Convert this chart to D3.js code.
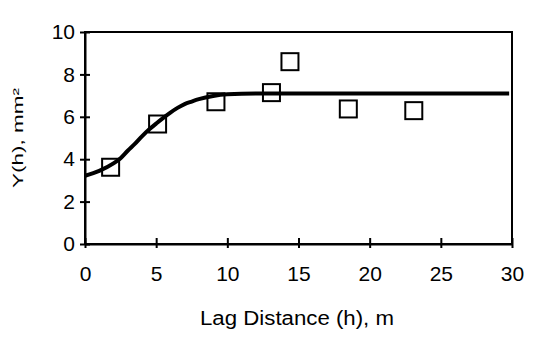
<!DOCTYPE html>
<html>
<head>
<meta charset="utf-8">
<script src="https://cdn.jsdelivr.net/npm/d3@7"></script>
<style>
  body { margin: 0; background: #fff; }
  text { font-family: "Liberation Sans", Arial, sans-serif; fill: #000; }
</style>
</head>
<body>
<div id="chart"></div>
<script>
// observed semivariogram points
const lagObs = [1.8, 5.1, 9.2, 13.1, 14.4, 18.5, 23.1];
const gammaObs = [3.62, 5.66, 6.71, 7.14, 8.6, 6.37, 6.29];

// fitted model curve
const lagFit = [0, 1, 2, 2.5, 3, 3.5, 4, 4.5, 5, 5.5, 6, 6.5, 7, 7.5, 8, 9, 10, 12, 29.8];
const gammaFit = [3.22, 3.45, 3.8, 4.05, 4.4, 4.72, 5.08, 5.4, 5.68, 5.95, 6.2, 6.42, 6.6, 6.72, 6.83, 6.98, 7.06, 7.1, 7.1];

const xTicks = [0, 5, 10, 15, 20, 25, 30];
const yTicks = [0, 2, 4, 6, 8, 10];

const W = 533, H = 338;
const margin = {top: 32, right: 21, bottom: 94, left: 85};
const width = W - margin.left - margin.right;
const height = H - margin.top - margin.bottom;

const svg = d3.select("#chart").append("svg")
    .attr("width", W)
    .attr("height", H);

const g = svg.append("g")
    .attr("transform", `translate(${margin.left},${margin.top})`);

const x = d3.scaleLinear().domain([0, 30]).range([0, width]);
const y = d3.scaleLinear().domain([0, 10]).range([height, 0]);

// frame
g.append("rect")
    .attr("width", width)
    .attr("height", height)
    .attr("fill", "none")
    .attr("stroke", "#000")
    .attr("stroke-width", 2);

// axes
const xAxis = g.append("g")
    .attr("transform", `translate(0,${height})`)
    .call(d3.axisBottom(x).tickValues(xTicks).tickSizeInner(4).tickSizeOuter(0).tickFormat(d3.format("d")));
xAxis.select(".domain").attr("stroke-width", 2);
xAxis.selectAll(".tick line").attr("y1", -6).attr("stroke-width", 2);
xAxis.selectAll(".tick text")
    .attr("y", 22)
    .style("font-size", "21px");

const yAxis = g.append("g")
    .call(d3.axisLeft(y).tickValues(yTicks).tickSizeInner(5).tickSizeOuter(0).tickFormat(d3.format("d")));
yAxis.select(".domain").attr("stroke-width", 2);
yAxis.selectAll(".tick line").attr("x1", 5).attr("stroke-width", 2);
yAxis.selectAll(".tick text")
    .attr("x", -10)
    .style("font-size", "21px");

// model curve
const line = d3.line()
    .x(d => x(d[0]))
    .y(d => y(d[1]))
    .curve(d3.curveMonotoneX);

g.append("path")
    .datum(lagFit.map((h, i) => [h, gammaFit[i]]))
    .attr("d", line)
    .attr("fill", "none")
    .attr("stroke", "#000")
    .attr("stroke-width", 4);

// observed points as open squares
const s = 17;
g.selectAll(".pt")
    .data(lagObs.map((h, i) => [h, gammaObs[i]]))
    .enter().append("rect")
    .attr("class", "pt")
    .attr("x", d => x(d[0]) - s / 2)
    .attr("y", d => y(d[1]) - s / 2)
    .attr("width", s)
    .attr("height", s)
    .attr("fill", "none")
    .attr("stroke", "#000")
    .attr("stroke-width", 2);

// axis titles
svg.append("text")
    .attr("x", 297)
    .attr("y", 325)
    .attr("text-anchor", "middle")
    .attr("textLength", 194)
    .attr("lengthAdjust", "spacingAndGlyphs")
    .style("font-size", "20px")
    .text("Lag Distance (h), m");

svg.append("text")
    .attr("transform", "translate(23,138) rotate(-90)")
    .attr("text-anchor", "middle")
    .attr("textLength", 100)
    .attr("lengthAdjust", "spacingAndGlyphs")
    .style("font-size", "14px")
    .text("Y(h), mm²");
</script>
</body>
</html>
